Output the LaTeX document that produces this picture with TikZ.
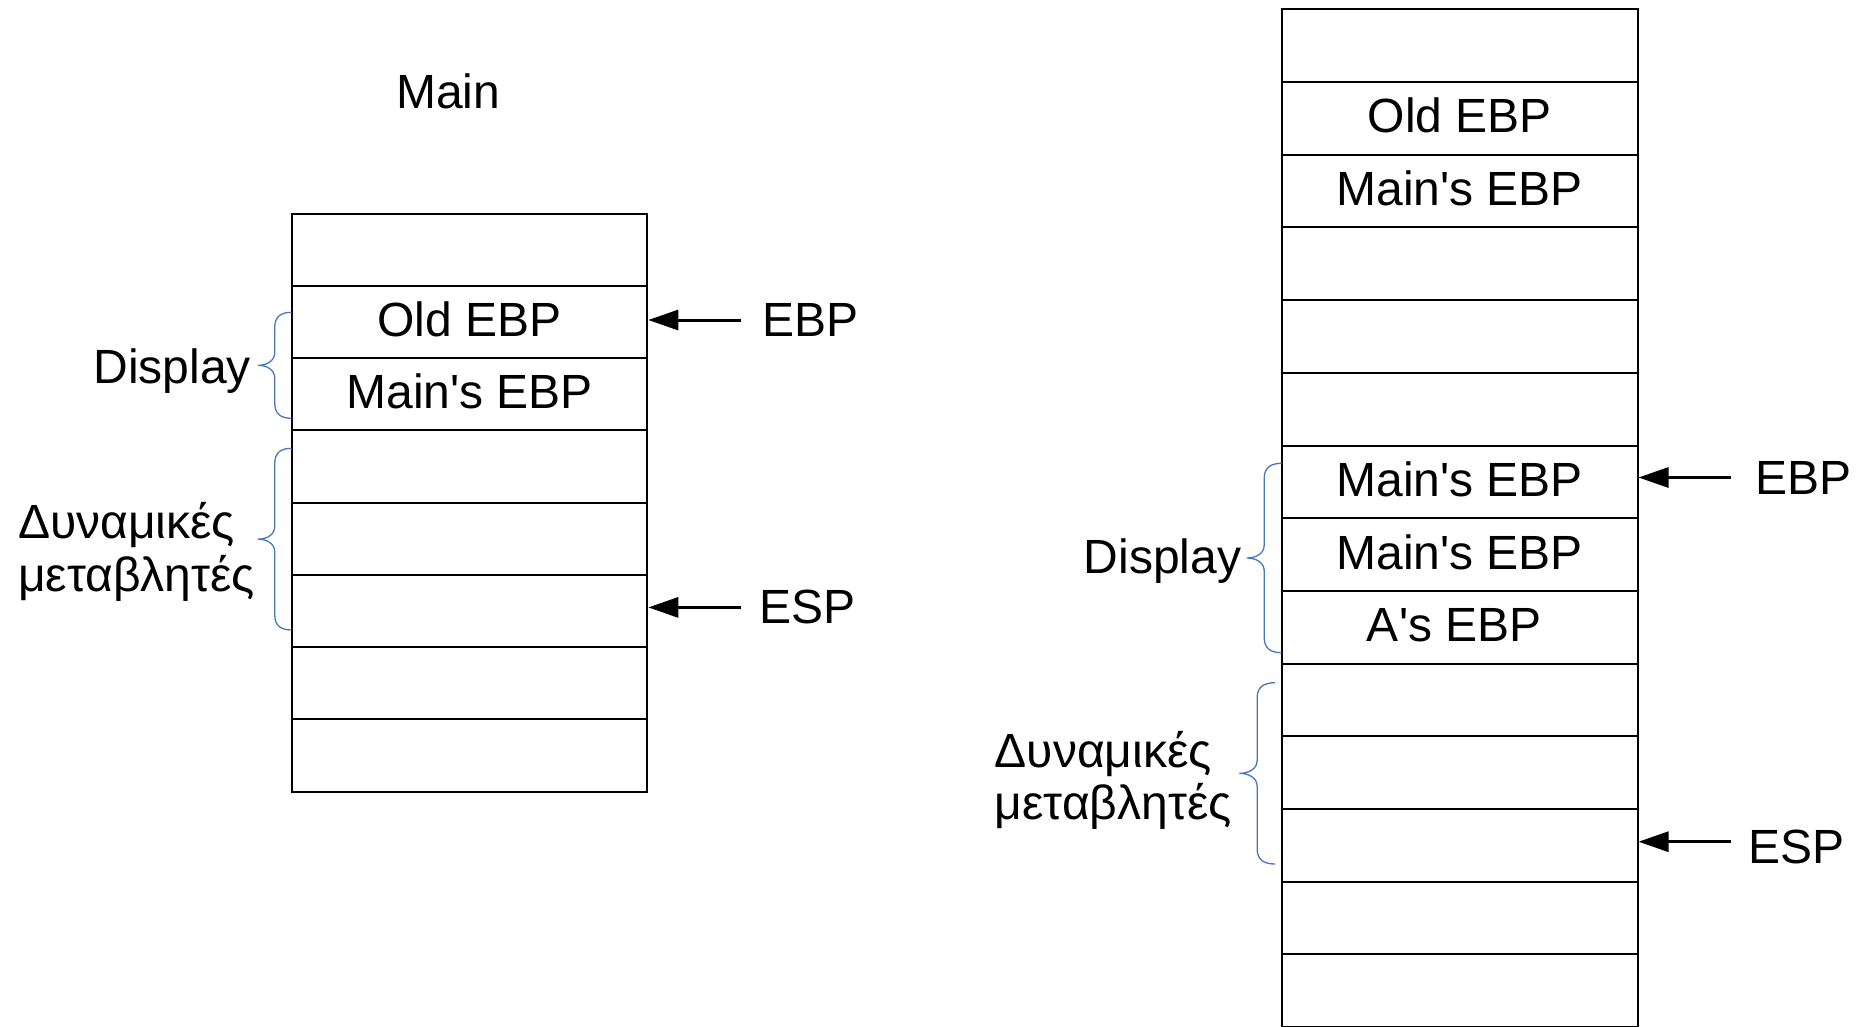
\documentclass[tikz,border=0pt]{standalone}
\usepackage{fontspec}
\setmainfont{Liberation Sans}
\usetikzlibrary{arrows.meta}
\definecolor{bracecol}{HTML}{4A76C0}

% left curly brace: #1 x of the open ends, #2 top y, #3 bottom y, #4 depth
\newcommand{\drawbrace}[4]{%
  \pgfmathsetmacro\brmid{(#2+#3)/2}%
  \draw[brace] ({#1},{#2})
    .. controls ({#1-0.3*#4},{#2}) and ({#1-0.5*#4},{#2+4}) .. ({#1-0.5*#4},{#2+15})
    -- ({#1-0.5*#4},{\brmid-13})
    .. controls ({#1-0.5*#4},{\brmid-4}) and ({#1-0.75*#4},{\brmid}) .. ({#1-#4},{\brmid})
    .. controls ({#1-0.75*#4},{\brmid}) and ({#1-0.5*#4},{\brmid+4}) .. ({#1-0.5*#4},{\brmid+13})
    -- ({#1-0.5*#4},{#3-15})
    .. controls ({#1-0.5*#4},{#3-4}) and ({#1-0.3*#4},{#3}) .. ({#1},{#3});%
}
\newcommand{\q}{\textquotesingle}

\tikzset{
  bigfont/.style={font=\fontsize{48}{52.5}\selectfont},
  cellL/.style={draw=black, line width=2pt, fill=white, bigfont,
    minimum width=355.3pt, minimum height=72.25pt, inner sep=0pt,
    text height=34pt, text depth=5pt},
  cellR/.style={cellL, minimum width=355.5pt, minimum height=72.7pt},
  txt/.style={inner sep=0pt, bigfont},
  ptr/.style={txt, anchor=west, inner ysep=0pt},
  arr/.style={line width=3pt, -{Triangle[length=30pt,width=20pt]}},
  brace/.style={draw=bracecol, line width=1.3pt}
}

\begin{document}
\begin{tikzpicture}[x=1pt,y=-1pt]
  \useasboundingbox (0,0) rectangle (1863,1026);
  \clip (0,0) rectangle (1863,1026);

  % stack of the Main frame
  \node[txt, anchor=base] (title) at (448.3,108.3) {Main};
  \foreach \t [count=\i from 0] in {{},{Old EBP},{Main\q s EBP},{},{},{},{},{}}
    \node[cellL] (L\i) at (469.65,{213.5+72.25*(\i+0.5)}) {\t};

  % stack after the call of A
  \foreach \t [count=\i from 0] in {{},{Old EBP},{Main\q s EBP},{},{},{},{Main\q s EBP},{Main\q s EBP},{A\q s EBP\kern11pt},{},{},{},{},{}}
    \node[cellR] (R\i) at (1459.75,{9.3+72.7*(\i+0.5)}) {\t};

  % braces and their labels
  \drawbrace{291.5}{312.3}{418.3}{33.5}
  \drawbrace{291.5}{448.3}{630}{33.5}
  \drawbrace{1281.7}{463.3}{652.7}{35}
  \drawbrace{1275}{682.7}{864}{35.7}

  \node[txt, anchor=base east] (dispL) at (251,383.3) {Display};
  \node[txt, anchor=base west, align=left] (dynL) at (18,591.3) {Δυναμικές\\μεταβλητές};
  \node[txt, anchor=base east] (dispR) at (1241.5,573.3) {Display};
  \node[txt, anchor=base west, align=left] (dynR) at (994.5,819.5) {Δυναμικές\\μεταβλητές};

  % register pointers
  \node[ptr, inner xsep=21pt] (ebpL) at (741,320) {EBP};
  \node[ptr, inner xsep=18pt] (espL) at (741,607.4) {ESP};
  \node[ptr, inner xsep=24pt] (ebpR) at (1731,477.5) {EBP};
  \node[ptr, inner xsep=17pt] (espR) at (1731,846.7) {ESP};

  \draw[arr] (ebpL.west) -- (ebpL.west -| L1.east);
  \draw[arr] (espL.west) -- (espL.west -| L5.east);
  \draw[arr] (ebpR.west) -- (ebpR.west -| R6.east);
  \draw[arr] ([yshift=5pt]espR.west) -- ([yshift=5pt]espR.west -| R11.east);
\end{tikzpicture}
\end{document}
